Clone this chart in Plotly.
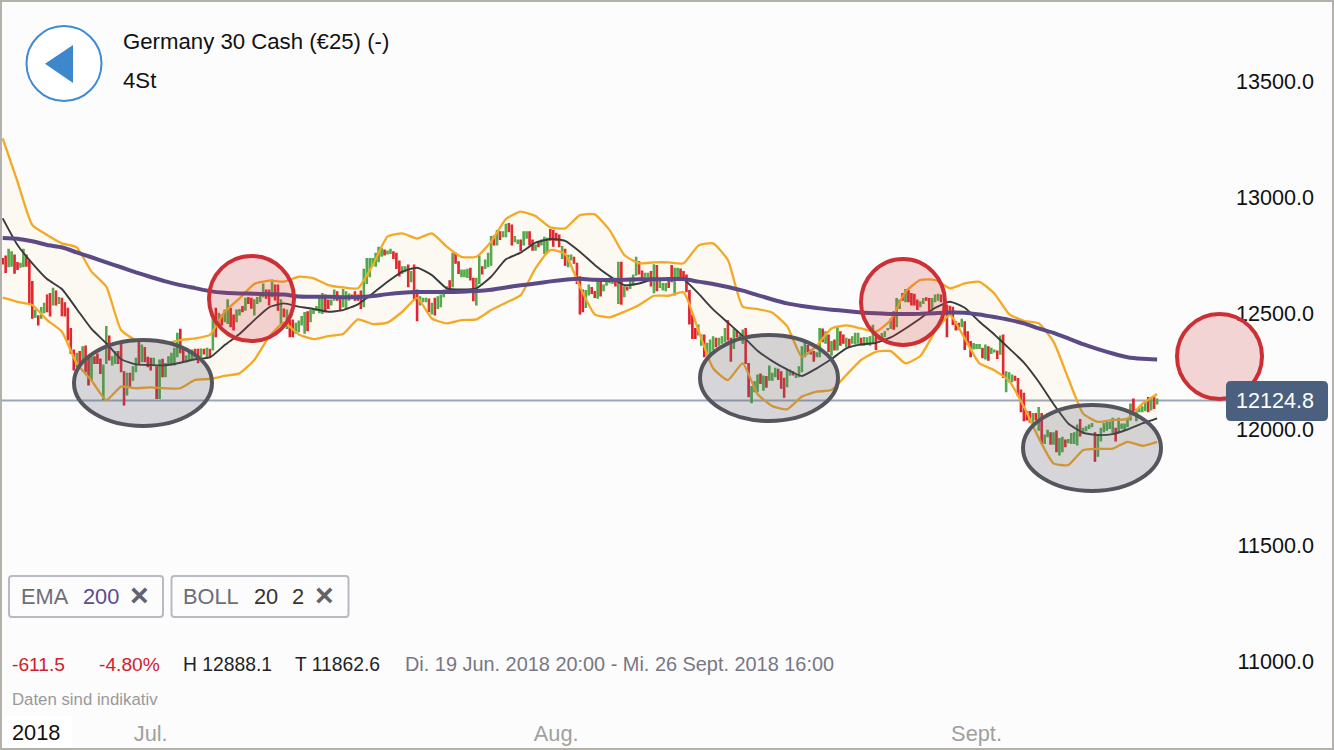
import plotly.graph_objects as go

# ---------- data (DAX 4h candles) ----------
last_price = 12124.8
y_ticks = [13500, 13000, 12500, 12000, 11500, 11000]
month_labels = ["Jul.", "Aug.", "Sept."]
month_bars = [50, 187, 329]

bar_dirs = ("RRGGRRGGRR" "RGRGGRRGRG" "RRRRRGRGRR" "GRRRGGRGGR" "RRGRGGRGRR"
            "RGRGRGGGGG" "RRGGGRRGRG" "RGRGRGGRRG" "GRGRRGGGGR" "RGRRGRGRRG"
            "GGGRGGGGGR" "RGGRRGGGRR" "RRGGGGGGGR" "GGRRRGGRGR" "RGGGRGRGGG"
            "GRGRRGGGRR" "GGRGGGRGRG" "GRRGGRGGRR" "GRGGGRRRRG" "RGGRRRRGGR"
            "RGRGGGGRGR" "GRGGGRRGGR" "GRGGGRRGGR" "RRRRRGGRGG" "GRGGGRRGRG"
            "GRRGGGRGRG" "GGRRRGGRGG" "GGRRRGGRGR" "GRGRRGRGGG" "RGGGGRGGGG"
            "GRGGRGRRRR" "GGRRGGGRRR" "RRRRGRRRGG" "GRGRGGRGRG" "GGRRRRRRGR"
            "GRGGRGRGGR" "GGGGRGGGGR" "GGGGGGRGGG" "GGRGGGGRGRG")

bar_highs = [
 12738,12748,12777,12767,12753,12720,12717,12777,12753,12727,
 12638,12515,12490,12526,12544,12580,12587,12609,12597,12569,
 12566,12547,12523,12436,12343,12329,12336,12357,12360,12307,
 12314,12314,12326,12304,12278,12444,12403,12314,12336,12336,
 12372,12249,12242,12242,12271,12307,12379,12364,12354,12311,
 12307,12307,12271,12300,12303,12285,12314,12329,12350,12415,
 12432,12350,12317,12336,12343,12346,12346,12347,12346,12350,
 12346,12487,12523,12501,12494,12515,12559,12523,12494,12515,
 12518,12530,12566,12569,12566,12559,12569,12587,12628,12602,
 12602,12645,12623,12623,12559,12520,12515,12472,12472,12458,
 12468,12487,12504,12508,12515,12518,12530,12566,12587,12580,
 12558,12558,12602,12594,12573,12604,12594,12584,12580,12594,
 12580,12597,12691,12738,12738,12738,12760,12786,12781,12774,
 12770,12777,12767,12760,12727,12702,12702,12709,12681,12709,
 12602,12573,12566,12566,12563,12544,12566,12573,12580,12602,
 12616,12642,12760,12760,12724,12688,12688,12691,12695,12652,
 12652,12748,12702,12731,12760,12832,12835,12858,12853,12853,
 12885,12888,12882,12832,12817,12817,12853,12853,12853,12817,
 12796,12810,12817,12829,12825,12863,12858,12846,12839,12789,
 12777,12752,12753,12743,12717,12659,12602,12599,12623,12612,
 12595,12638,12638,12623,12638,12652,12648,12652,12721,12721,
 12616,12613,12652,12666,12743,12724,12684,12674,12674,12681,
 12710,12707,12652,12630,12630,12652,12707,12695,12695,12692,
 12681,12666,12599,12494,12436,12451,12408,12408,12372,12386,
 12400,12393,12393,12400,12436,12469,12393,12432,12426,12408,
 12429,12436,12285,12185,12206,12235,12239,12231,12228,12274,
 12242,12264,12260,12249,12221,12257,12257,12249,12235,12271,
 12357,12375,12362,12343,12336,12331,12436,12433,12422,12408,
 12379,12386,12444,12422,12408,12393,12389,12400,12415,12415,
 12393,12397,12396,12400,12450,12397,12403,12414,12422,12436,
 12476,12508,12565,12558,12587,12604,12599,12587,12583,12558,
 12551,12565,12568,12565,12565,12580,12583,12580,12537,12537,
 12532,12527,12465,12458,12475,12465,12422,12379,12371,12367,
 12367,12350,12364,12357,12350,12343,12338,12403,12407,12249,
 12245,12235,12230,12220,12170,12156,12077,12077,12069,12069,
 12095,12069,11976,11997,11986,11986,11993,11961,11966,11954,
 11957,11983,11986,12019,12043,12005,12012,12019,12026,11986,
 11976,12005,12026,12033,12031,12048,12005,12048,12023,12023,
 12048,12110,12131,12087,12091,12098,12120,12138,12134,12141,12131]

bar_lows = [
 12714,12677,12702,12705,12674,12691,12700,12702,12705,12544,
 12480,12484,12451,12480,12504,12508,12490,12537,12537,12544,
 12491,12490,12386,12329,12257,12271,12271,12293,12249,12192,
 12213,12285,12285,12242,12130,12285,12300,12278,12285,12285,
 12249,12106,12149,12185,12213,12249,12285,12293,12293,12271,
 12257,12278,12134,12134,12228,12228,12278,12278,12278,12314,
 12331,12293,12293,12300,12300,12314,12288,12314,12326,12314,
 12314,12343,12400,12458,12451,12465,12458,12444,12429,12465,
 12494,12508,12515,12544,12523,12494,12544,12551,12573,12566,
 12537,12573,12559,12515,12458,12487,12436,12400,12400,12415,
 12422,12451,12415,12426,12465,12501,12515,12504,12501,12508,
 12522,12537,12558,12558,12518,12530,12518,12558,12570,12558,
 12558,12522,12530,12630,12659,12709,12705,12724,12748,12753,
 12757,12760,12738,12695,12662,12673,12681,12616,12638,12558,
 12469,12537,12551,12551,12508,12498,12494,12522,12530,12573,
 12594,12604,12616,12717,12673,12659,12659,12656,12645,12556,
 12537,12630,12671,12695,12702,12709,12796,12796,12820,12832,
 12832,12853,12796,12810,12803,12771,12796,12825,12796,12774,
 12774,12789,12796,12760,12767,12817,12791,12817,12789,12738,
 12709,12702,12731,12717,12630,12498,12508,12527,12580,12587,
 12570,12566,12576,12599,12623,12633,12630,12619,12544,12541,
 12573,12602,12609,12623,12666,12671,12656,12659,12659,12619,
 12590,12599,12613,12602,12599,12613,12638,12580,12645,12645,
 12656,12595,12455,12393,12393,12408,12364,12314,12321,12329,
 12343,12357,12364,12372,12379,12386,12295,12350,12400,12386,
 12372,12285,12142,12116,12163,12163,12199,12170,12182,12213,
 12213,12228,12216,12178,12139,12185,12235,12235,12225,12228,
 12249,12314,12336,12326,12295,12314,12314,12379,12372,12336,
 12321,12343,12343,12364,12372,12357,12357,12372,12369,12372,
 12364,12364,12367,12364,12371,12345,12386,12393,12400,12429,
 12436,12433,12443,12522,12558,12551,12551,12537,12537,12518,
 12530,12544,12558,12504,12522,12551,12558,12551,12508,12400,
 12494,12453,12429,12432,12443,12345,12368,12314,12347,12350,
 12350,12310,12304,12299,12328,12335,12307,12325,12225,12163,
 12206,12206,12213,12146,12077,12038,12041,12033,12012,12041,
 11997,11940,11940,11969,11937,11937,11904,11890,11904,11926,
 11943,11940,11940,11933,11972,11983,11995,12005,12012,11863,
 11885,11951,11990,11997,12005,11986,11951,11990,12005,12000,
 12012,12041,12069,12038,12077,12077,12081,12077,12084,12091,12110]

# line samples, every fifth bar
line_bars = [5 * k for k in range(79)]

boll_upper = [
 13256,13069,12882,12839,12803,12786,12681,12616,12429,12386,
 12386,12372,12386,12393,12408,12508,12566,12628,12642,12638,
 12659,12652,12623,12613,12609,12709,12832,12846,12824,12846,
 12789,12745,12745,12810,12908,12940,12921,12872,12868,12925,
 12928,12861,12753,12717,12721,12721,12717,12793,12803,12731,
 12530,12520,12504,12446,12314,12362,12436,12449,12436,12422,
 12472,12594,12645,12645,12609,12630,12637,12587,12498,12469,
 12458,12379,12220,12069,12033,12041,12046,12110,12153]

boll_lower = [
 12569,12551,12537,12472,12422,12285,12211,12127,12185,12178,
 12182,12178,12178,12214,12218,12231,12242,12300,12400,12461,
 12410,12390,12403,12412,12475,12455,12461,12508,12568,12479,
 12458,12472,12475,12515,12547,12580,12695,12774,12757,12616,
 12497,12484,12508,12537,12577,12577,12592,12429,12264,12213,
 12285,12153,12101,12087,12142,12163,12170,12235,12300,12335,
 12338,12285,12317,12422,12494,12393,12285,12256,12210,12098,
 11964,11854,11847,11911,11917,11917,11947,11930,11947]

boll_mid = [
 12911,12796,12717,12649,12606,12520,12434,12372,12303,12281,
 12278,12277,12288,12303,12311,12364,12412,12472,12527,12544,
 12530,12520,12508,12515,12540,12587,12637,12681,12698,12666,
 12609,12604,12609,12659,12734,12763,12806,12822,12814,12767,
 12710,12662,12623,12630,12649,12649,12648,12587,12518,12461,
 12403,12340,12295,12259,12231,12264,12304,12350,12367,12374,
 12397,12436,12479,12525,12551,12525,12465,12410,12350,12289,
 12206,12110,12026,11986,11976,11980,12000,12026,12048]

ema_200 = [
 12826,12823,12812,12796,12786,12764,12743,12721,12700,12678,
 12658,12639,12623,12610,12597,12590,12587,12586,12584,12582,
 12574,12573,12573,12571,12571,12576,12584,12590,12593,12593,
 12593,12594,12597,12603,12613,12622,12630,12639,12646,12650,
 12646,12645,12646,12648,12648,12649,12649,12638,12628,12615,
 12599,12580,12561,12544,12533,12524,12517,12511,12505,12501,
 12498,12498,12499,12502,12505,12504,12496,12485,12473,12458,
 12436,12417,12393,12368,12347,12328,12312,12305,12302]

# ---------- derived ----------
bar_index = list(range(len(bar_highs)))
opens = [l if d == "G" else h for h, l, d in zip(bar_highs, bar_lows, bar_dirs)]
closes = [h if d == "G" else l for h, l, d in zip(bar_highs, bar_lows, bar_dirs)]

W, H, BOTTOM = 1334, 750, 32
PLOT_H = H - BOTTOM
BAR_PX = 2.96
BAR0_PX = 2.7
PX_PER_POINT = 0.2318
Y0_PX = 429.5

def px(x):
    return x / W

def py(y):
    return 1 - y / PLOT_H

FONT = "Liberation Sans"

fig = go.Figure()

fig.add_trace(go.Candlestick(
    x=bar_index, open=opens, high=bar_highs, low=bar_lows, close=closes,
    increasing=dict(line=dict(color="#4aa94a", width=1.1), fillcolor="#4aa94a"),
    decreasing=dict(line=dict(color="#df1f2b", width=1.1), fillcolor="#df1f2b"),
    whiskerwidth=0, hoverinfo="skip", showlegend=False))

ORANGE = "#f4a925"
fig.add_trace(go.Scatter(x=line_bars, y=boll_upper, mode="lines",
                         line=dict(color=ORANGE, width=2.3, shape="spline", smoothing=0.5),
                         hoverinfo="skip", showlegend=False))
fig.add_trace(go.Scatter(x=line_bars, y=boll_lower, mode="lines",
                         line=dict(color=ORANGE, width=2.3, shape="spline", smoothing=0.5),
                         fill="tonexty", fillcolor="rgba(250,190,90,0.06)",
                         hoverinfo="skip", showlegend=False))
fig.add_trace(go.Scatter(x=line_bars, y=boll_mid, mode="lines",
                         line=dict(color="#3a3a3e", width=1.9, shape="spline", smoothing=0.5),
                         hoverinfo="skip", showlegend=False))
fig.add_trace(go.Scatter(x=line_bars, y=ema_200, mode="lines",
                         line=dict(color="#5c4a86", width=4, shape="spline", smoothing=0.5),
                         hoverinfo="skip", showlegend=False))

shapes = []

def ellipse(x0, y0, x1, y1, line, fill, width):
    hw = width / 2
    shapes.append(dict(type="circle", xref="paper", yref="paper",
                       x0=px(x0 + hw), x1=px(x1 - hw), y0=py(y1 - hw), y1=py(y0 + hw),
                       line=dict(color=line, width=width), fillcolor=fill, layer="above"))

def rounded(x0, y0, x1, y1, r, line, fill, width):
    p = (f"M{px(x0+r)},{py(y0)} L{px(x1-r)},{py(y0)} Q{px(x1)},{py(y0)} {px(x1)},{py(y0+r)} "
         f"L{px(x1)},{py(y1-r)} Q{px(x1)},{py(y1)} {px(x1-r)},{py(y1)} "
         f"L{px(x0+r)},{py(y1)} Q{px(x0)},{py(y1)} {px(x0)},{py(y1-r)} "
         f"L{px(x0)},{py(y0+r)} Q{px(x0)},{py(y0)} {px(x0+r)},{py(y0)} Z")
    shapes.append(dict(type="path", xref="paper", yref="paper", path=p, layer="above",
                       line=dict(color=line, width=width), fillcolor=fill))

# last price line
shapes.append(dict(type="line", xref="paper", yref="y", x0=0, x1=px(1230),
                   y0=last_price, y1=last_price, layer="below",
                   line=dict(color="#9ca6b6", width=2)))

# white patch behind the year label
shapes.append(dict(type="rect", xref="paper", yref="paper", layer="above",
                   x0=px(2), x1=px(72), y0=py(748), y1=py(716),
                   fillcolor="#ffffff", line=dict(width=0)))

GRAY_FILL = "rgba(95,95,115,0.25)"
GRAY_LINE = "#55555d"
RED_FILL = "rgba(205,55,60,0.2)"
RED_LINE = "#cc3035"
ellipse(72, 338, 214, 428, GRAY_LINE, GRAY_FILL, 4)
ellipse(698, 333, 840, 423, GRAY_LINE, GRAY_FILL, 4)
ellipse(1021, 403, 1163, 493, GRAY_LINE, GRAY_FILL, 4)
ellipse(207, 254, 296, 343, RED_LINE, RED_FILL, 4)
ellipse(859, 257, 947, 347, RED_LINE, RED_FILL, 4)
ellipse(1175, 312, 1264, 401, RED_LINE, RED_FILL, 4)

# price tag
rounded(1226, 381, 1328, 421, 5, "#4b5f7e", "#4b5f7e", 0)

# back button
ellipse(25.5, 25, 102.5, 102, "#3f8bd2", "rgba(255,255,255,1)", 2)
shapes.append(dict(type="path", xref="paper", yref="paper", layer="above",
                   path=f"M{px(45)},{py(63.7)} L{px(73)},{py(45)} L{px(73)},{py(83)} Z",
                   fillcolor="#3d87cd", line=dict(width=0)))

# indicator chips
rounded(9, 576, 163, 617, 3, "#b9b9c1", "#fcfcfc", 2)
rounded(171.5, 576, 348.5, 617, 3, "#b9b9c1", "#fcfcfc", 2)

# window frame
shapes.append(dict(type="rect", xref="paper", yref="paper",
                   x0=px(1), x1=px(W - 1), y0=py(H - 1), y1=py(1), layer="above",
                   line=dict(color="#b2b2aa", width=2), fillcolor="rgba(0,0,0,0)"))

annotations = []

def text(t, x, y, size, color, anchor="left", bold=False):
    annotations.append(dict(text=f"<b>{t}</b>" if bold else t, xref="paper", yref="paper",
                            x=px(x), y=py(y), xanchor=anchor, yanchor="middle",
                            showarrow=False, borderpad=0, borderwidth=0,
                            font=dict(family=FONT, size=size, color=color)))

text("Germany 30 Cash (€25) (-)", 123, 41, 22.2, "#111111")
text("4St", 123, 81, 22.2, "#111111")
text("12124.8", 1275, 400.5, 21.6, "#ffffff", anchor="center")

text("EMA", 21, 596, 21.8, "#6d6d7a")
text("200", 83, 596, 21.8, "#5f4a8c")
text("×", 139.5, 595, 32, "#62626c", anchor="center", bold=True)
text("BOLL", 183, 596, 21.8, "#6d6d7a")
text("20", 254, 596, 21.8, "#333338")
text("2", 292, 596, 21.8, "#333338")
text("×", 324, 595, 32, "#62626c", anchor="center", bold=True)

text("-611.5", 12, 664, 19.2, "#d0202c")
text("-4.80%", 99, 664, 19.2, "#d0202c")
text("H 12888.1", 183, 664, 19.3, "#222226")
text("T 11862.6", 295, 664, 19.3, "#222226")
text("Di. 19 Jun. 2018 20:00 - Mi. 26 Sept. 2018 16:00", 405, 664, 19.9, "#777785")
text("Daten sind indikativ", 12, 699, 16.8, "#999999")
text("2018", 12, 732, 21.8, "#111111")

x_left = -BAR0_PX / BAR_PX
x_right = (W - BAR0_PX) / BAR_PX
y_top = 12000 + Y0_PX / PX_PER_POINT
y_bottom = 12000 - (PLOT_H - Y0_PX) / PX_PER_POINT

fig.update_layout(
    width=W, height=H, autosize=False,
    margin=dict(l=0, r=0, t=0, b=BOTTOM, pad=0),
    paper_bgcolor="#fcfcfc", plot_bgcolor="#fcfcfc",
    showlegend=False, shapes=shapes, annotations=annotations,
    font=dict(family=FONT),
    xaxis=dict(range=[x_left, x_right], rangeslider=dict(visible=False),
               showgrid=False, zeroline=False, showline=False, ticks="",
               tickmode="array", tickvals=month_bars, ticktext=month_labels,
               tickfont=dict(family=FONT, size=21.8, color="#a0a0a0")),
    yaxis=dict(range=[y_bottom, y_top], side="right", ticklabelposition="inside",
               showgrid=False, zeroline=False, showline=False, ticks="",
               tickmode="array", tickvals=y_ticks,
               ticktext=[f"{v:.1f}" for v in y_ticks], ticklabelstandoff=17,
               tickfont=dict(family=FONT, size=21.6, color="#111111")),
)

fig.write_html("out.html", config=dict(displayModeBar=False),
               post_script="document.body.style.margin='0';document.body.style.overflow='hidden';")
